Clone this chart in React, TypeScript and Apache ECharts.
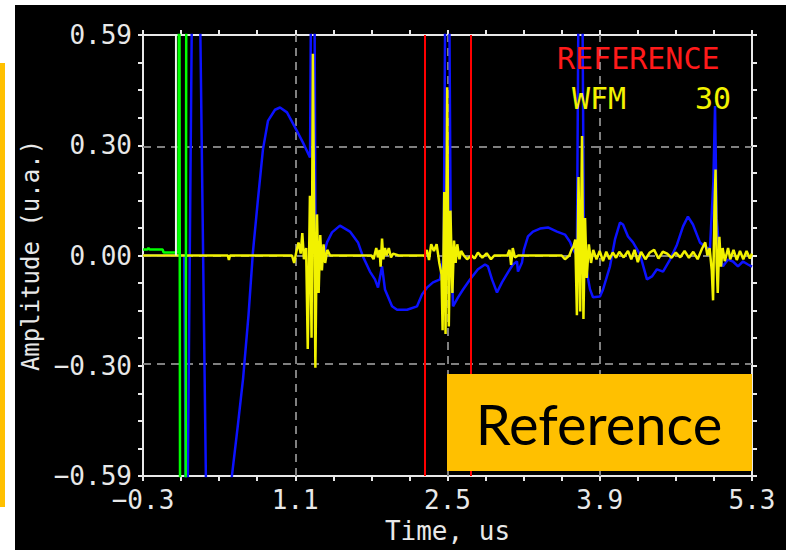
import React, { useEffect, useRef } from "react";
import * as echarts from "echarts";

// Axis ranges and tick positions
const T_MIN = -0.3;
const T_MAX = 5.3;
const A_MIN = -0.59;
const A_MAX = 0.59;

const xTicks = [-0.3, 0.05, 0.4, 0.75, 1.1, 1.45, 1.8, 2.15, 2.5, 2.85, 3.2, 3.55, 3.9, 4.25, 4.6, 4.95, 5.3];
const xLabelValues = [-0.3, 1.1, 2.5, 3.9, 5.3];
const xLabelTexts = ["\u22120.3", "1.1", "2.5", "3.9", "5.3"];

const yTicks = [
  -0.59, -0.51625, -0.4425, -0.36875, -0.295, -0.22125, -0.1475, -0.07375, 0,
  0.07375, 0.1475, 0.22125, 0.295, 0.36875, 0.4425, 0.51625, 0.59,
];
const yLabelValues = [-0.59, -0.295, 0, 0.295, 0.59];
const yLabelTexts = ["\u22120.59", "\u22120.30", "0.00", "0.30", "0.59"];

// Dashed grid positions
const gridTimes = [1.1, 2.5, 3.9];
const gridAmps = [-0.295, 0, 0.295];

// Gate (reference window) limits, us
const gateTimes = [2.29, 2.71];

// Trigger cursor
const cursorTrace: [number, number][] = [
  [0.003, 0.59],
  [0.003, 0.0],
];

// Reference signal (blue)
const referenceTrace: [number, number][] = [
  [-0.3, 0], [0.08, 0], [0.1, -1.0], [0.16, 1.0], [0.21, 1.0], [0.3, -1.1], [0.39, -1.0],
  [0.518, -0.589], [0.57, -0.46], [0.62, -0.33], [0.67, -0.16], [0.711, 0.01], [0.757, 0.15],
  [0.803, 0.284], [0.849, 0.36], [0.914, 0.39], [0.96, 0.396], [1.024, 0.383], [1.098, 0.343],
  [1.171, 0.302], [1.236, 0.262], [1.255, 1.2], [1.27, 1.2], [1.285, 0.12], [1.31, 0.0],
  [1.346, -0.016], [1.392, 0.035], [1.438, 0.062], [1.511, 0.08], [1.603, 0.064], [1.677, 0.035],
  [1.723, -0.003], [1.787, -0.043], [1.833, -0.064], [1.861, -0.086], [1.898, -0.029],
  [1.925, -0.091], [1.99, -0.136], [2.036, -0.145], [2.128, -0.145], [2.22, -0.136],
  [2.266, -0.104], [2.311, -0.086], [2.367, -0.072], [2.431, -0.064], [2.465, 0.0], [2.49, 1.2],
  [2.505, 1.2], [2.53, 0.05], [2.551, -0.136], [2.597, -0.112], [2.643, -0.091], [2.707, -0.064],
  [2.78, -0.037], [2.845, -0.024], [2.872, -0.029], [2.909, -0.064], [2.955, -0.099],
  [3.001, -0.072], [3.056, -0.045], [3.102, -0.024], [3.139, -0.016], [3.148, -0.043],
  [3.185, -0.019], [3.203, 0.016], [3.24, 0.051], [3.286, 0.064], [3.351, 0.072], [3.424, 0.075],
  [3.507, 0.064], [3.58, 0.056], [3.626, 0.037], [3.654, 0.016], [3.69, 0.0], [3.715, 1.2],
  [3.73, 1.2], [3.755, 0.0], [3.764, -0.016], [3.81, -0.09], [3.838, -0.112], [3.902, -0.11],
  [3.93, -0.091], [3.994, -0.029], [4.04, 0.043], [4.086, 0.088], [4.114, 0.083], [4.16, 0.051],
  [4.206, 0.035], [4.27, 0.003], [4.334, -0.064], [4.38, -0.056], [4.426, -0.037], [4.482, -0.043],
  [4.546, -0.011], [4.61, 0.029], [4.666, 0.078], [4.711, 0.104], [4.757, 0.083], [4.821, 0.035],
  [4.867, 0.024], [4.913, 0.016], [4.945, 0.2], [4.96, 0.4], [4.975, 0.1], [5.004, -0.005],
  [5.033, -0.029], [5.079, -0.011], [5.125, -0.016], [5.171, -0.029], [5.217, -0.016],
  [5.263, -0.024], [5.3, -0.03],
];

// Waveform 30 (yellow)
const wfmTrace: [number, number][] = [
  [-0.3, 0], [0.48, 0], [0.49, -0.012], [0.5, 0], [1.07, 0], [1.09, -0.02], [1.11, 0.01],
  [1.13, 0.035], [1.15, 0.005], [1.165, 0.06], [1.18, -0.01], [1.2, 0.02], [1.215, -0.25],
  [1.235, 0.16], [1.25, -0.22], [1.262, 0.54], [1.285, -0.3], [1.3, 0.11], [1.315, -0.1],
  [1.33, 0.055], [1.345, -0.04], [1.36, 0.03], [1.375, -0.02], [1.395, 0.015], [1.42, 0],
  [1.8, 0], [1.82, -0.01], [1.845, 0.02], [1.86, -0.005], [1.875, 0.015], [1.885, -0.03],
  [1.898, 0.045], [1.91, -0.01], [1.925, 0.02], [1.94, 0], [1.96, 0.02], [1.98, -0.005],
  [2.0, 0.005], [2.05, 0], [2.29, 0], [2.31, 0.015], [2.33, -0.012], [2.35, 0.03], [2.375, 0.012],
  [2.4, 0.03], [2.425, -0.02], [2.445, -0.05], [2.455, -0.2], [2.47, 0.17], [2.482, -0.21],
  [2.497, 0.45], [2.512, -0.19], [2.527, 0.12], [2.545, -0.1], [2.56, 0.04], [2.575, -0.02],
  [2.59, 0.03], [2.61, -0.01], [2.625, 0.012], [2.65, 0], [2.68, -0.01], [2.72, 0], [2.75, -0.008],
  [2.78, 0.008], [2.82, -0.006], [2.86, 0.006], [2.9, -0.01], [2.93, 0], [3.05, 0], [3.07, 0.015],
  [3.085, -0.025], [3.1, 0.02], [3.12, -0.005], [3.15, 0], [3.55, 0], [3.58, -0.01], [3.62, 0],
  [3.64, 0.015], [3.66, 0.025], [3.675, 0.043], [3.69, -0.16], [3.705, 0.21], [3.72, -0.15],
  [3.737, 0.32], [3.75, -0.17], [3.765, 0.1], [3.78, -0.06], [3.8, 0.03], [3.82, -0.02],
  [3.84, 0.015], [3.87, -0.01], [3.9, 0.012], [3.93, -0.015], [3.96, 0.01], [3.99, -0.01],
  [4.02, 0.008], [4.05, -0.006], [4.08, 0.01], [4.12, -0.005], [4.16, 0.012], [4.19, -0.01],
  [4.22, 0.015], [4.25, -0.018], [4.28, 0.01], [4.32, -0.01], [4.36, 0.008], [4.4, 0.015],
  [4.44, -0.008], [4.48, 0.01], [4.52, 0.005], [4.56, -0.006], [4.6, 0.008], [4.64, -0.005],
  [4.68, 0.012], [4.72, -0.006], [4.76, 0.01], [4.8, -0.01], [4.84, 0.018], [4.87, 0.035],
  [4.89, 0], [4.91, 0.02], [4.93, -0.04], [4.942, -0.12], [4.955, 0.13], [4.965, 0.23],
  [4.975, -0.02], [4.985, -0.1], [5.0, 0.05], [5.015, -0.03], [5.03, 0.02], [5.05, -0.015],
  [5.08, 0.02], [5.1, -0.01], [5.13, 0.015], [5.16, -0.012], [5.19, 0.012], [5.22, -0.01],
  [5.25, 0.012], [5.28, -0.008], [5.3, 0.005],
];

// Emission pulse (green)
const pulseTrace: [number, number][] = [
  [-0.3, 0.016], [-0.26, 0.016], [-0.25, 0.02], [-0.24, 0.016], [-0.12, 0.016], [-0.11, 0.008],
  [0.025, 0.008], [0.033, 1.2], [0.043, -1.2], [0.09, -1.2], [0.1, 1.2],
];

const AXIS_COLOR = "#e8e8e8";
const MONO = "DejaVu Sans Mono";

function labelFor(values: number[], texts: string[]) {
  return (v: number) => {
    let best = 0;
    for (let i = 1; i < values.length; i++) {
      if (Math.abs(values[i] - v) < Math.abs(values[best] - v)) best = i;
    }
    return texts[best];
  };
}

const axisLine = { show: true, onZero: false, lineStyle: { color: AXIS_COLOR, width: 2 } };

function buildOption(): any {
  return {
    animation: false,
    backgroundColor: "#ffffff",
    grid: { left: 143, top: 35, right: 34, bottom: 74, containLabel: false },
    xAxis: [
      {
        type: "value",
        min: T_MIN,
        max: T_MAX,
        position: "bottom",
        axisLine,
        axisTick: { show: true, customValues: xTicks, length: 5, lineStyle: { color: AXIS_COLOR, width: 2 } },
        axisLabel: {
          customValues: xLabelValues,
          formatter: labelFor(xLabelValues, xLabelTexts),
          color: AXIS_COLOR,
          fontFamily: MONO,
          fontSize: 26,
          margin: 11,
        },
        splitLine: { show: false },
        name: "Time, us",
        nameLocation: "middle",
        nameGap: 40,
        nameTextStyle: { color: AXIS_COLOR, fontFamily: MONO, fontSize: 26 },
      },
      {
        type: "value",
        min: T_MIN,
        max: T_MAX,
        position: "top",
        axisLine,
        axisTick: { show: true, customValues: xTicks, length: 5, lineStyle: { color: AXIS_COLOR, width: 2 } },
        axisLabel: { show: false },
        splitLine: { show: false },
      },
    ],
    yAxis: [
      {
        type: "value",
        min: A_MIN,
        max: A_MAX,
        position: "left",
        axisLine,
        axisTick: { show: true, customValues: yTicks, length: 5, lineStyle: { color: AXIS_COLOR, width: 2 } },
        axisLabel: {
          customValues: yLabelValues,
          formatter: labelFor(yLabelValues, yLabelTexts),
          color: AXIS_COLOR,
          fontFamily: MONO,
          fontSize: 26,
          margin: 11,
        },
        splitLine: { show: false },
        name: "Amplitude (u.a.)",
        nameLocation: "middle",
        nameGap: 98,
        nameTextStyle: { color: AXIS_COLOR, fontFamily: MONO, fontSize: 24 },
      },
      {
        type: "value",
        min: A_MIN,
        max: A_MAX,
        position: "right",
        axisLine,
        axisTick: { show: true, customValues: yTicks, length: 5, lineStyle: { color: AXIS_COLOR, width: 2 } },
        axisLabel: { show: false },
        splitLine: { show: false },
      },
    ],
    series: [
      {
        name: "REFERENCE",
        type: "line",
        xAxisIndex: 0,
        yAxisIndex: 0,
        data: referenceTrace,
        symbol: "none",
        clip: true,
        z: 2,
        lineStyle: { color: "#0c12ff", width: 2.5 },
        markLine: {
          silent: true,
          z: 1,
          symbol: ["none", "none"],
          label: { show: false },
          lineStyle: { color: "#808080", width: 2, type: [8, 6] },
          data: [...gridTimes.map((v) => ({ xAxis: v })), ...gridAmps.map((v) => ({ yAxis: v }))],
        },
      },
      {
        name: "WFM 30",
        type: "line",
        xAxisIndex: 0,
        yAxisIndex: 0,
        data: wfmTrace,
        symbol: "none",
        clip: true,
        z: 3,
        lineStyle: { color: "#f2f200", width: 2.5 },
        markLine: {
          silent: true,
          z: 6,
          symbol: ["none", "none"],
          label: { show: false },
          lineStyle: { color: "#ff0000", width: 2, type: "solid" },
          data: gateTimes.map((v) => ({ xAxis: v })),
        },
      },
      {
        name: "pulse",
        type: "line",
        xAxisIndex: 0,
        yAxisIndex: 0,
        data: pulseTrace,
        symbol: "none",
        clip: true,
        z: 4,
        lineStyle: { color: "#00ff00", width: 2.5 },
      },
      {
        name: "cursor",
        type: "line",
        xAxisIndex: 0,
        yAxisIndex: 0,
        data: cursorTrace,
        symbol: "none",
        clip: true,
        z: 7,
        lineStyle: { color: "#f0f0f0", width: 2 },
      },
    ],
    graphic: [
      { type: "rect", z: -100, silent: true, shape: { x: 15, y: 5, width: 771, height: 545 }, style: { fill: "#000000" } },
      { type: "rect", z: 10, silent: true, shape: { x: 0, y: 63, width: 5, height: 444 }, style: { fill: "#ffc000" } },
      {
        type: "text",
        z: 10,
        x: 557,
        y: 43,
        style: { text: "REFERENCE", fill: "#ff1a1a", font: `30px "${MONO}"`, textAlign: "left", textVerticalAlign: "top" },
      },
      {
        type: "text",
        z: 10,
        x: 572,
        y: 83,
        style: { text: "WFM", fill: "#f2f200", font: `30px "${MONO}"`, textAlign: "left", textVerticalAlign: "top" },
      },
      {
        type: "text",
        z: 10,
        x: 731,
        y: 83,
        style: { text: "30", fill: "#f2f200", font: `30px "${MONO}"`, textAlign: "right", textVerticalAlign: "top" },
      },
      { type: "rect", z: 100, silent: true, shape: { x: 447, y: 374, width: 305, height: 97 }, style: { fill: "#ffc000" } },
      {
        type: "text",
        z: 101,
        x: 599,
        y: 423,
        style: { text: "Reference", fill: "#000000", font: "56px Lato", textAlign: "center", textVerticalAlign: "middle" },
      },
    ],
  };
}

export default function App() {
  const ref = useRef<HTMLDivElement>(null);
  useEffect(() => {
    if (!ref.current) return;
    const chart = echarts.init(ref.current, null, { renderer: "svg" });
    chart.setOption(buildOption());
    return () => chart.dispose();
  }, []);
  return <div ref={ref} style={{ position: "absolute", left: 0, top: 0, width: 786, height: 550 }} />;
}
